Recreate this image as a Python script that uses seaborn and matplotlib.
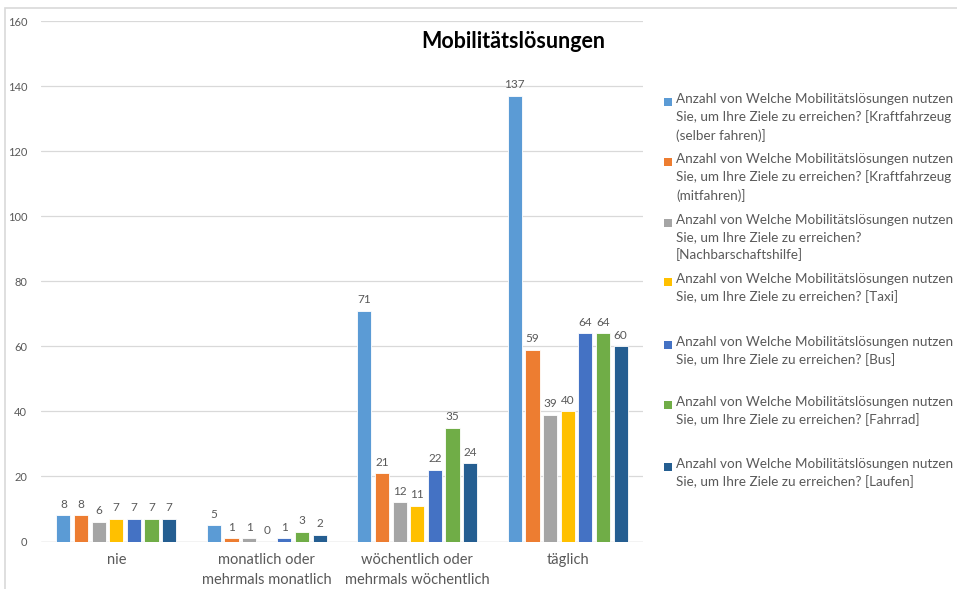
import matplotlib
matplotlib.use("Agg")
import matplotlib.pyplot as plt
from matplotlib.patches import Rectangle
import pandas as pd
import seaborn as sns

# Data
categories = ["nie", "monatlich oder\nmehrmals monatlich",
              "wöchentlich oder\nmehrmals wöchentlich", "täglich"]
series = ["Kraftfahrzeug (selber fahren)", "Kraftfahrzeug (mitfahren)",
          "Nachbarschaftshilfe", "Taxi", "Bus", "Fahrrad", "Laufen"]
values = {
    "Kraftfahrzeug (selber fahren)": [8, 5, 71, 137],
    "Kraftfahrzeug (mitfahren)":     [8, 1, 21, 59],
    "Nachbarschaftshilfe":           [6, 1, 12, 39],
    "Taxi":                          [7, 0, 11, 40],
    "Bus":                           [7, 1, 22, 64],
    "Fahrrad":                       [7, 3, 35, 64],
    "Laufen":                        [7, 2, 24, 60],
}
legend_labels = [
    "Anzahl von Welche Mobilitätslösungen nutzen\nSie, um Ihre Ziele zu erreichen? [Kraftfahrzeug\n(selber fahren)]",
    "Anzahl von Welche Mobilitätslösungen nutzen\nSie, um Ihre Ziele zu erreichen? [Kraftfahrzeug\n(mitfahren)]",
    "Anzahl von Welche Mobilitätslösungen nutzen\nSie, um Ihre Ziele zu erreichen?\n[Nachbarschaftshilfe]",
    "Anzahl von Welche Mobilitätslösungen nutzen\nSie, um Ihre Ziele zu erreichen? [Taxi]",
    "Anzahl von Welche Mobilitätslösungen nutzen\nSie, um Ihre Ziele zu erreichen? [Bus]",
    "Anzahl von Welche Mobilitätslösungen nutzen\nSie, um Ihre Ziele zu erreichen? [Fahrrad]",
    "Anzahl von Welche Mobilitätslösungen nutzen\nSie, um Ihre Ziele zu erreichen? [Laufen]",
]
colors = ["#5B9BD5", "#ED7D31", "#A5A5A5", "#FFC000", "#4472C4", "#70AD47", "#255E91"]

rows = [(c, s, values[s][i]) for s in series for i, c in enumerate(categories)]
df = pd.DataFrame(rows, columns=["Kategorie", "Serie", "Anzahl"])

sns.set_theme(style="white")
plt.rcParams["font.family"] = ["Lato", "DejaVu Sans"]
txt = "#595959"
grid = "#D9D9D9"

W, H = 957, 589
fig = plt.figure(figsize=(W / 100, H / 100), dpi=100)

# light frame (only top and left edges fall inside the picture)
fig.patches.append(Rectangle((5 / W, -0.1), 1.2, 1.1 - 8 / H, transform=fig.transFigure,
                             fill=False, edgecolor=grid, linewidth=1.2))

ax = fig.add_axes([41 / W, 1 - 541.5 / H, 602 / W, 520.5 / H])
ax.patch.set_visible(False)

sns.barplot(data=df, x="Kategorie", y="Anzahl", hue="Serie", order=categories,
            hue_order=series, palette=colors, saturation=1, width=0.82, gap=0.2,
            edgecolor="white", linewidth=0.6, legend=False, ax=ax)

# value on top of every bar (the 0 too)
for cont in ax.containers:
    ax.bar_label(cont, padding=4, fontsize=8.5, color=txt)

ax.set_ylim(0, 160)
ax.set_yticks(range(0, 161, 20))
ax.set_xlim(-0.5, 3.5)
ax.xaxis.grid(False)
ax.yaxis.grid(True, color=grid, linewidth=0.9)
ax.set_axisbelow(True)
for side in ["left", "right", "top", "bottom"]:
    ax.spines[side].set_visible(False)
ax.axhline(0, color=grid, linewidth=1.0, zorder=0.5)
ax.tick_params(axis="both", length=0)
ax.tick_params(axis="y", labelsize=8, labelcolor=txt, pad=10)
ax.tick_params(axis="x", labelsize=10.5, labelcolor=txt, pad=8)
for lab in ax.get_xticklabels():
    lab.set_linespacing(1.55)
ax.set_xlabel("")
ax.set_ylabel("")

fig.text(513 / W, 1 - 42 / H, "Mobilitätslösungen", ha="center", va="center",
         fontsize=15.5, fontweight="bold", color="black")

# Legend drawn by hand so each marker sits on the first line of its label
entry_y = [102, 162, 223, 282, 345, 405, 467]
for col, label, y in zip(colors, legend_labels, entry_y):
    fig.patches.append(Rectangle((664 / W, 1 - (y + 4) / H), 8 / W, 8 / H,
                                 transform=fig.transFigure, facecolor=col,
                                 edgecolor="none"))
    fig.text(676 / W, 1 - (y - 9) / H, label, ha="left", va="top",
             fontsize=9.7, color=txt, linespacing=1.5)

fig.savefig("out.png", dpi=100)
